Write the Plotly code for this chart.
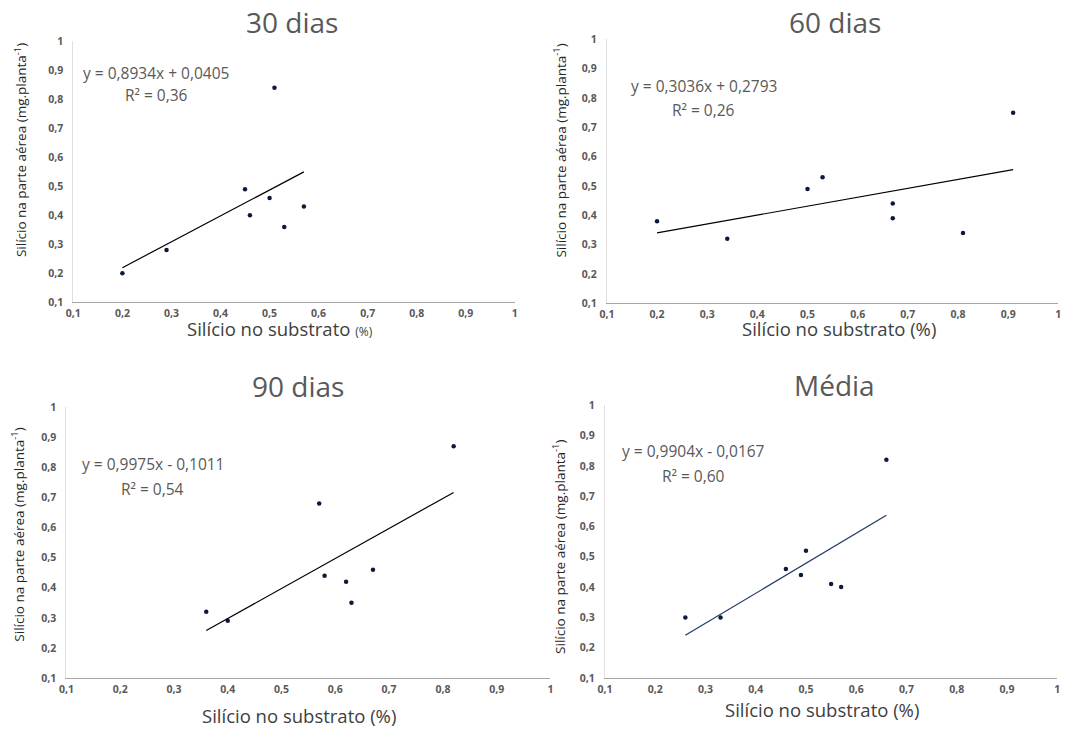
import plotly.graph_objects as go

W, H = 1089, 736

titles = ["30 dias", "60 dias", "90 dias", "Média"]
x30 = [0.20, 0.29, 0.45, 0.46, 0.50, 0.51, 0.53, 0.57]
y30 = [0.20, 0.28, 0.49, 0.40, 0.46, 0.84, 0.36, 0.43]
x60 = [0.20, 0.34, 0.50, 0.53, 0.67, 0.67, 0.81, 0.91]
y60 = [0.38, 0.32, 0.49, 0.53, 0.44, 0.39, 0.34, 0.75]
x90 = [0.36, 0.40, 0.57, 0.58, 0.62, 0.63, 0.67, 0.82]
y90 = [0.32, 0.29, 0.68, 0.44, 0.42, 0.35, 0.46, 0.87]
xmed = [0.26, 0.33, 0.46, 0.49, 0.50, 0.55, 0.57, 0.66]
ymed = [0.30, 0.30, 0.46, 0.44, 0.52, 0.41, 0.40, 0.82]
slopes = [0.8934, 0.3036, 0.9975, 0.9904]
intercepts = [0.0405, 0.2793, -0.1011, -0.0167]
eq_texts = ["y = 0,8934x + 0,0405", "y = 0,3036x + 0,2793",
            "y = 0,9975x - 0,1011", "y = 0,9904x - 0,0167"]
r2_texts = ["R² = 0,36", "R² = 0,26", "R² = 0,54", "R² = 0,60"]
tick_vals = [0.1, 0.2, 0.3, 0.4, 0.5, 0.6, 0.7, 0.8, 0.9, 1.0]

xs = [x30, x60, x90, xmed]
ys = [y30, y60, y90, ymed]

# pixel boxes: (left, right, top, bottom)
boxes = [(66, 512, 35, 301), (605, 1061, 33, 302),
         (59, 548, 408, 684), (603, 1060, 406, 684)]
title_pos = [(287, 15), (835, 15), (293, 386), (835, 385)]
eq_pos = [(150, 67, 90), (703, 81, 105), (146, 466, 491), (692, 453, 478)]
xt_pos = [(275, 328), (839, 328), (294, 722), (822, 716)]
yt_pos = [(13, 146), (558, 146), (10, 538), (556, 550)]
line_colors = ["#000000", "#000000", "#000000", "#1f3864"]

fig = go.Figure()
annotations = []
for i in range(4):
    l, r, t, b = boxes[i]
    n = "" if i == 0 else str(i + 1)
    xa = "x" + n
    ya = "y" + n
    fig.add_trace(go.Scatter(x=xs[i], y=ys[i], mode="markers",
                             marker=dict(size=4.5, color="#0b1a3c"),
                             xaxis=xa, yaxis=ya, showlegend=False))
    x0, x1 = min(xs[i]), max(xs[i])
    fig.add_trace(go.Scatter(x=[x0, x1],
                             y=[slopes[i] * x0 + intercepts[i], slopes[i] * x1 + intercepts[i]],
                             mode="lines", line=dict(color=line_colors[i], width=1.2),
                             xaxis=xa, yaxis=ya, showlegend=False))
    axcommon = dict(range=[0.1, 1.0], tickvals=tick_vals, showgrid=False, zeroline=False,
                    ticks="", showline=True,
                    tickfont=dict(family="Open Sans", size=10.5, color="#595959", weight="bold"))
    fig.layout["xaxis" + n] = dict(domain=[l / W, r / W], anchor=ya, ticklabelstandoff=1,
                                   linecolor="#a6a6a6", linewidth=1, **axcommon)
    fig.layout["yaxis" + n] = dict(domain=[1 - b / H, 1 - t / H], anchor=xa, ticklabelstandoff=7,
                                   linecolor="#e0e0e0", linewidth=1, **axcommon)
    tx, ty = title_pos[i]
    annotations.append(dict(text=titles[i], x=tx / W, y=1 - ty / H, xref="paper", yref="paper",
                            showarrow=False, xanchor="center", yanchor="middle",
                            font=dict(family="Open Sans", size=28, color="#595959")))
    ex, ey1, ey2 = eq_pos[i]
    annotations.append(dict(text=eq_texts[i], x=ex / W, y=1 - ey1 / H, xref="paper", yref="paper",
                            showarrow=False, xanchor="center", yanchor="middle",
                            font=dict(family="Open Sans", size=15.5, color="#595959")))
    annotations.append(dict(text=r2_texts[i], x=ex / W, y=1 - ey2 / H, xref="paper", yref="paper",
                            showarrow=False, xanchor="center", yanchor="middle",
                            font=dict(family="Open Sans", size=15.5, color="#595959")))
    xx, xy = xt_pos[i]
    xtitle = "Silício no substrato <span style='font-size:12px'>(%)</span>" if i == 0 else "Silício no substrato (%)"
    annotations.append(dict(text=xtitle, x=xx / W, y=1 - xy / H, xref="paper", yref="paper",
                            showarrow=False, xanchor="center", yanchor="middle",
                            font=dict(family="Open Sans", size=18.5, color="#404040")))
    yx, yy = yt_pos[i]
    annotations.append(dict(text="Silício na parte aérea (mg.planta<sup>-1</sup>)",
                            x=yx / W, y=1 - yy / H, xref="paper", yref="paper",
                            showarrow=False, xanchor="center", yanchor="middle", textangle=-90,
                            font=dict(family="Open Sans", size=13.5, color="#262626")))

fig.update_layout(width=W, height=H, margin=dict(l=0, r=0, t=0, b=0),
                  paper_bgcolor="white", plot_bgcolor="white",
                  separators=", ", annotations=annotations)
fig.write_html("out.html", config={"displayModeBar": False},
               post_script="document.body.style.margin='0';")
